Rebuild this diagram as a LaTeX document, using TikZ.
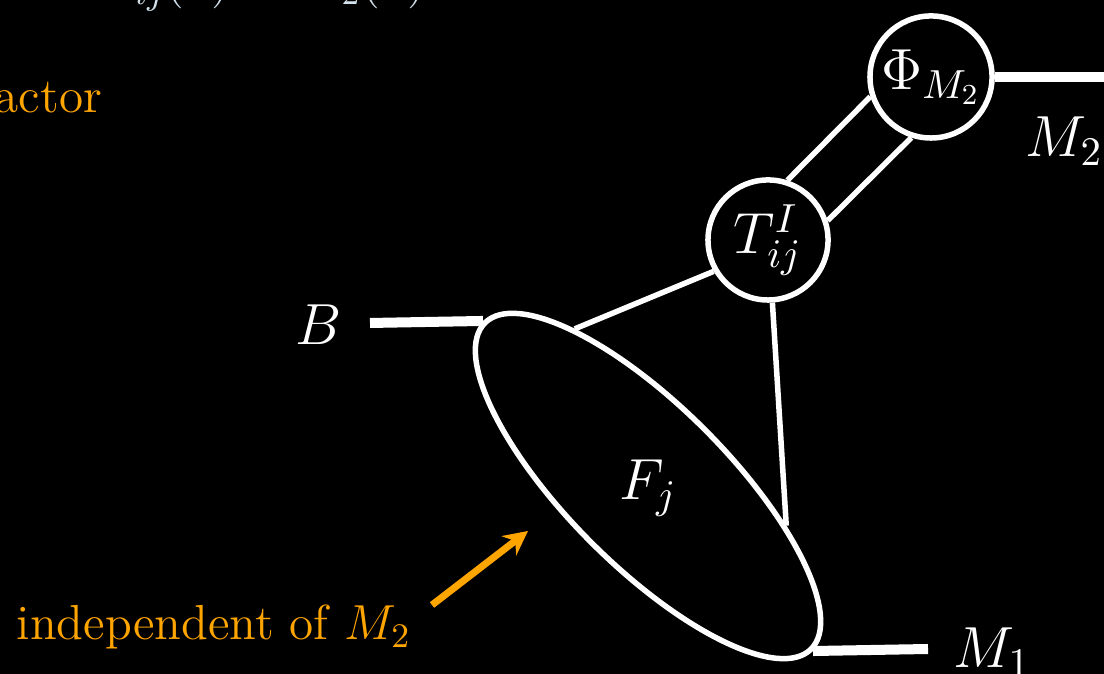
\documentclass[tikz,border=0pt]{standalone}
\usepackage{fix-cm}
\usetikzlibrary{shapes.geometric,arrows.meta}
\definecolor{orng}{HTML}{FFA500}
\definecolor{pale}{RGB}{210,225,235}
\begin{document}
\begin{tikzpicture}[x=0.01cm,y=0.01cm,
  lbl/.style={text=white,font=\fontsize{16.5}{20}\selectfont,inner sep=0pt},
  note/.style={text=orng,font=\fontsize{14}{17}\selectfont,inner sep=0pt},
  wire/.style={draw=white,line width=0.055cm},
  leg/.style={draw=white,line width=0.1cm},
  blob/.style={circle,draw=white,line width=0.055cm,inner sep=0pt,text=white,font=\fontsize{16.5}{20}\selectfont},
  pointer/.style={draw=orng,line width=0.07cm,-{Stealth[length=0.24cm,width=0.24cm]}}
]
\fill[black] (0,0) rectangle (1104,674);
\useasboundingbox (0,0) rectangle (1104,674);

% top (clipped) formula and clipped note
\node[anchor=base west,text=pale,font=\fontsize{14}{17}\selectfont,inner sep=0pt] (formula) at (106,677) {$T_{ij}(x) = M_2(x)$};
\node[note,anchor=base west] (factor) at (-6,561) {actor};

% main nodes
\node[blob,minimum size=1.22cm] (Phi) at (931,597) {$\Phi_{M_2}$};
\node[blob,minimum size=1.20cm] (T) at (768,434) {$T^I_{ij}$};
\node[ellipse,draw=white,line width=0.055cm,minimum width=4.61cm,minimum height=1.6cm,inner sep=0pt,rotate=-45] (F) at (648,188) {};
\node[lbl] (Flabel) at (648,186) {$F_j$};

% free ends
\coordinate (bstart) at (370,351);
\coordinate (m1end) at (928,25);
\coordinate (m2end) at (1110,597);

% labels
\node[lbl,anchor=base west] (Blabel) at (295,329) {$B$};
\node[lbl,anchor=base west] (M2label) at (1025,517) {$M_2$};
\node[lbl,anchor=base west] (M1label) at (953,6) {$M_1$};

% legs
\draw[leg] (bstart) -- (F.west);
\draw[leg] (F.east) -- (m1end);
\draw[leg] (Phi.east) -- (m2end);

% internal wires
\draw[wire] (T.72) -- (Phi.198);
\draw[wire] (T.18) -- (Phi.252);
\draw[wire] (T.210) -- (F.160);
\draw[wire] (T.274) -- (F.29);

% orange note with arrow
\node[note,anchor=base west] (indep) at (16,34) {independent of $M_2$};
\coordinate (ast) at (432,69);
\coordinate (aend) at (528,143);
\draw[pointer] (ast) -- (aend);
\end{tikzpicture}
\end{document}
